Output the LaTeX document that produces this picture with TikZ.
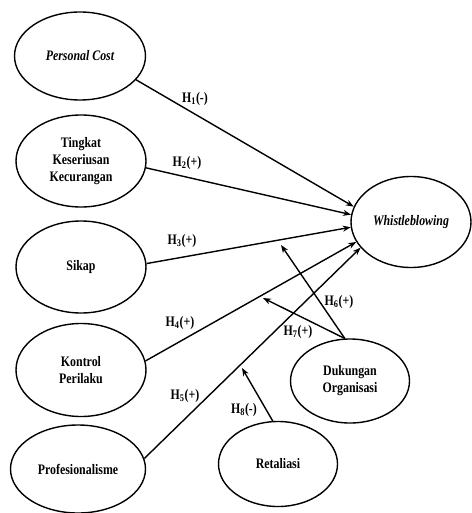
\documentclass[tikz,border=0pt]{standalone}
\usepackage{fontspec}
\setmainfont{Liberation Serif}[FakeStretch=0.82]
\usetikzlibrary{shapes.geometric,arrows.meta}
\begin{document}
\begin{tikzpicture}[x=1pt,y=-1pt,
        var/.style={draw,ellipse,line width=1.4pt,inner sep=0pt,align=center,font=\fontsize{14.5}{17}\selectfont\bfseries},
        hyp/.style={line width=1.4pt,-{Stealth[length=8pt,width=6pt]}},
        hlabel/.style={inner sep=0pt,font=\fontsize{14.5}{17}\selectfont\bfseries}]
        \useasboundingbox (0,0) rectangle (471,513);
        % variabel
        \node[var,minimum width=131,minimum height=88] (pcost) at (80,56) {\itshape Personal Cost};
        \node[var,minimum width=130,minimum height=92] (tingkat) at (81,161) {Tingkat\\Keseriusan\\Kecurangan};
        \node[var,minimum width=130,minimum height=92] (sikap) at (81,267) {Sikap};
        \node[var,minimum width=130,minimum height=93] (kontrol) at (81,370) {Kontrol\\Perilaku};
        \node[var,minimum width=135,minimum height=88] (prof) at (78,469) {Profesionalisme};
        \node[var,minimum width=120,minimum height=91] (wb) at (411,222) {\itshape Whistleblowing};
        \node[var,minimum width=119,minimum height=84] (dukungan) at (350,381) {Dukungan\\Organisasi};
        \node[var,minimum width=119,minimum height=85] (retaliasi) at (278,464) {Retaliasi};
        % ujung panah moderasi
        \coordinate (h6end) at (281,245);
        \coordinate (h7end) at (263,298);
        \coordinate (h8end) at (242,368);
        % hipotesis
        \draw[hyp] (pcost.-23) -- (wb.165);
        \draw[hyp] (tingkat.-6) -- (wb.173);
        \draw[hyp] (sikap.3.5) -- (wb.185);
        \draw[hyp] (kontrol.8) -- (wb.200);
        \draw[hyp] (prof.9.5) -- (wb.207);
        \draw[hyp] (dukungan.97) -- (h6end);
        \draw[hyp] (dukungan.97) -- (h7end);
        \draw[hyp] (retaliasi.97) -- (h8end);
        \node[hlabel] (h1) at (195,99) {H\textsubscript{1}(-)};
        \node[hlabel] (h2) at (187,163) {H\textsubscript{2}(+)};
        \node[hlabel] (h3) at (182,241) {H\textsubscript{3}(+)};
        \node[hlabel] (h4) at (180,323) {H\textsubscript{4}(+)};
        \node[hlabel] (h5) at (185,396) {H\textsubscript{5}(+)};
        \node[hlabel] (h6) at (339,302) {H\textsubscript{6}(+)};
        \node[hlabel] (h7) at (298,332) {H\textsubscript{7}(+)};
        \node[hlabel] (h8) at (244,410) {H\textsubscript{8}(-)};
    \end{tikzpicture}
\end{document}
